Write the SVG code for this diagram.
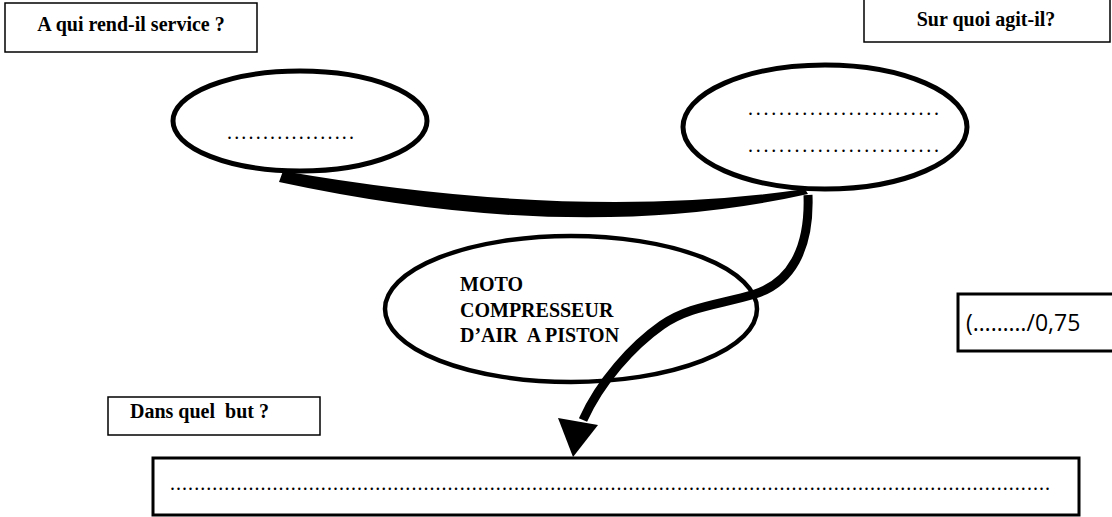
<svg xmlns="http://www.w3.org/2000/svg" width="1112" height="517" viewBox="0 0 1112 517">
<style>
.box{fill:#fff;stroke:#000;stroke-width:1.5}
.lbl{font-family:"Liberation Serif","Times New Roman",serif;font-weight:bold;font-size:20px;fill:#000;white-space:pre}
.ell{fill:none;stroke:#000;stroke-width:5}
.dots{font-family:"Liberation Serif",serif;font-size:20px;fill:#000}
.score{font-family:"Open Sans","Noto Sans",sans-serif;font-size:23px;fill:#000}
</style>
<rect width="1112" height="517" fill="#fff"/>
<g id="box-aqui">
<rect class="box" x="5" y="3" width="252" height="49"/>
<text class="lbl" x="131" y="31" text-anchor="middle">A qui rend-il service ?</text>
</g>
<g id="box-surquoi">
<rect class="box" x="864" y="-2" width="246" height="44"/>
<text class="lbl" x="986" y="26" text-anchor="middle">Sur quoi agit-il?</text>
</g>
<g id="ell-left">
<ellipse class="ell" cx="300" cy="121" rx="127" ry="50"/>
<text class="dots" x="227" y="139" textLength="127" lengthAdjust="spacing">..................</text>
</g>
<g id="ell-right">
<ellipse class="ell" cx="825" cy="127" rx="142" ry="62"/>
<text class="dots" x="748" y="115" textLength="191" lengthAdjust="spacing">.........................</text>
<text class="dots" x="748" y="152" textLength="191" lengthAdjust="spacing">.........................</text>
</g>
<g id="ell-center">
<ellipse cx="571" cy="309" rx="186" ry="73" fill="none" stroke="#000" stroke-width="4.5"/>
<text class="lbl" x="460" y="291" font-size="19">MOTO</text>
<text class="lbl" x="460" y="317" font-size="19">COMPRESSEUR</text>
<text class="lbl" x="460" y="342" font-size="19">D’AIR  A PISTON</text>
</g>
<g id="box-score">
<rect x="958" y="294" width="160" height="57" fill="#fff" stroke="#000" stroke-width="3"/>
<text class="score" x="966" y="331">(………/0,75</text>
</g>
<g id="box-dans">
<rect class="box" x="108" y="397" width="212" height="38"/>
<text class="lbl" x="130" y="418">Dans quel  but ?</text>
</g>
<g id="box-bottom">
<rect x="153" y="458" width="926" height="57" fill="#fff" stroke="#000" stroke-width="3"/>
<text class="dots" x="170" y="490" textLength="880" lengthAdjust="spacing">..................................................................................................................................................</text>
</g>
<g id="connectors">
<path d="M283,171 Q576,222 805,189 L808,194 Q576,246 279,182 Z" fill="#000"/>
<path d="M808,195 C810,250 790,283 755,294 C718,305 690,306 662,325 C632,346 600,382 583,420" fill="none" stroke="#000" stroke-width="9"/>
<polygon points="558,418 598,425 573,457" fill="#000"/>
</g>
</svg>
